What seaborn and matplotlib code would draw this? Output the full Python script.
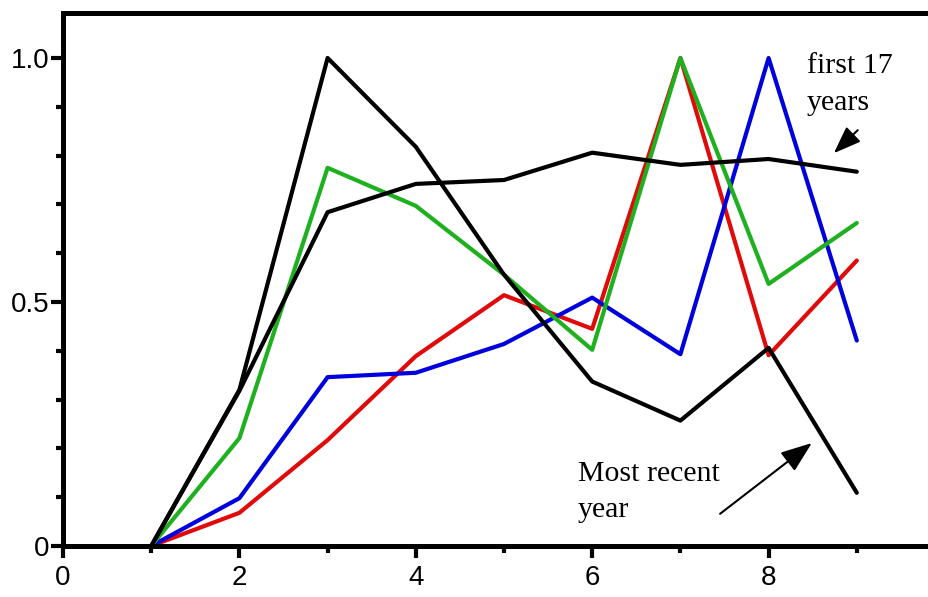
import matplotlib
matplotlib.use("Agg")
import matplotlib.pyplot as plt
import seaborn as sns
import pandas as pd
from matplotlib.ticker import MultipleLocator, FixedLocator

# ---- data ----
x_vals = [1, 2, 3, 4, 5, 6, 7, 8, 9]
first17 = [0.0, 0.318, 0.684, 0.742, 0.750, 0.806, 0.781, 0.793, 0.767]
recent = [0.0, 0.320, 1.0, 0.818, 0.556, 0.337, 0.257, 0.406, 0.109]
green_vals = [0.0, 0.221, 0.775, 0.697, 0.556, 0.402, 1.0, 0.537, 0.662]
red_vals = [0.0, 0.068, 0.217, 0.389, 0.514, 0.445, 1.0, 0.391, 0.585]
blue_vals = [0.0, 0.098, 0.346, 0.355, 0.414, 0.509, 0.393, 1.0, 0.421]

series_names = ["red", "blue", "green", "first 17 years", "most recent year"]
series_values = [red_vals, blue_vals, green_vals, first17, recent]
series_colors = ["#e00a0a", "#0000dd", "#1eb01e", "#000000", "#000000"]

x_tick_vals = [0, 2, 4, 6, 8]
x_tick_labels = ["0", "2", "4", "6", "8"]
y_tick_vals = [0, 0.5, 1.0]
y_tick_labels = ["0", "0.5", "1.0"]

rows = []
for name, vals in zip(series_names, series_values):
    for xv, yv in zip(x_vals, vals):
        rows.append({"x": xv, "y": yv, "series": name})
df = pd.DataFrame(rows)

sns.set_style("white")
plt.rcParams["font.family"] = ["Liberation Sans", "DejaVu Sans"]
plt.rcParams["text.color"] = "black"

W, H = 929, 597
fig = plt.figure(figsize=(W / 100, H / 100), dpi=100)
left_px, right_px, top_px, bottom_px = 63, 935, 13, 546
ax = fig.add_axes([left_px / W, (H - bottom_px) / H,
                   (right_px - left_px) / W, (bottom_px - top_px) / H])

sns.lineplot(data=df, x="x", y="y", hue="series", hue_order=series_names,
             palette=dict(zip(series_names, series_colors)), linewidth=3.0,
             legend=False, ax=ax, clip_on=False)

ax.set_xlim(0, (right_px - left_px) / 88.2)
ax.set_ylim(0, (bottom_px - top_px) / 488.0)

for side in ["left", "bottom", "top", "right"]:
    ax.spines[side].set_linewidth(3.6)
    ax.spines[side].set_color("black")
ax.spines["right"].set_visible(False)

ax.xaxis.set_major_locator(FixedLocator(x_tick_vals))
ax.set_xticklabels(x_tick_labels)
ax.xaxis.set_minor_locator(FixedLocator([1, 3, 5, 7, 9]))
ax.yaxis.set_major_locator(FixedLocator(y_tick_vals))
ax.set_yticklabels(y_tick_labels)
ax.yaxis.set_minor_locator(MultipleLocator(0.1))

ax.tick_params(axis="both", which="major", direction="out", length=8.5, width=3,
               color="black", labelsize=20, labelcolor="black")
ax.tick_params(axis="both", which="minor", direction="out", length=5, width=3,
               color="black")
ax.tick_params(axis="x", which="both", top=False, bottom=True, pad=5)
ax.tick_params(axis="y", which="both", right=False, left=True, pad=1)
ax.set_xlabel("")
ax.set_ylabel("")

serif = ["Liberation Serif", "DejaVu Serif"]
fs = 21.5
ax.text(8.435, 0.969, "first 17", family=serif, fontsize=fs, va="baseline", ha="left", color="black")
ax.text(8.435, 0.893, "years", family=serif, fontsize=fs, va="baseline", ha="left", color="black")
ax.text(5.84, 0.133, "Most recent", family=serif, fontsize=fs, va="baseline", ha="left", color="black")
ax.text(5.84, 0.059, "year", family=serif, fontsize=fs, va="baseline", ha="left", color="black")

ax.annotate("", xy=(8.74, 0.805), xytext=(9.01, 0.852),
            arrowprops=dict(arrowstyle="-|>,head_length=0.4,head_width=0.15",
                            mutation_scale=42, color="black", lw=1.5,
                            shrinkA=0, shrinkB=0))
ax.annotate("", xy=(8.49, 0.211), xytext=(7.45, 0.066),
            arrowprops=dict(arrowstyle="-|>,head_length=0.4,head_width=0.15",
                            mutation_scale=48, color="black", lw=1.5,
                            shrinkA=0, shrinkB=0))

fig.savefig("out.png", dpi=100, facecolor="white")
